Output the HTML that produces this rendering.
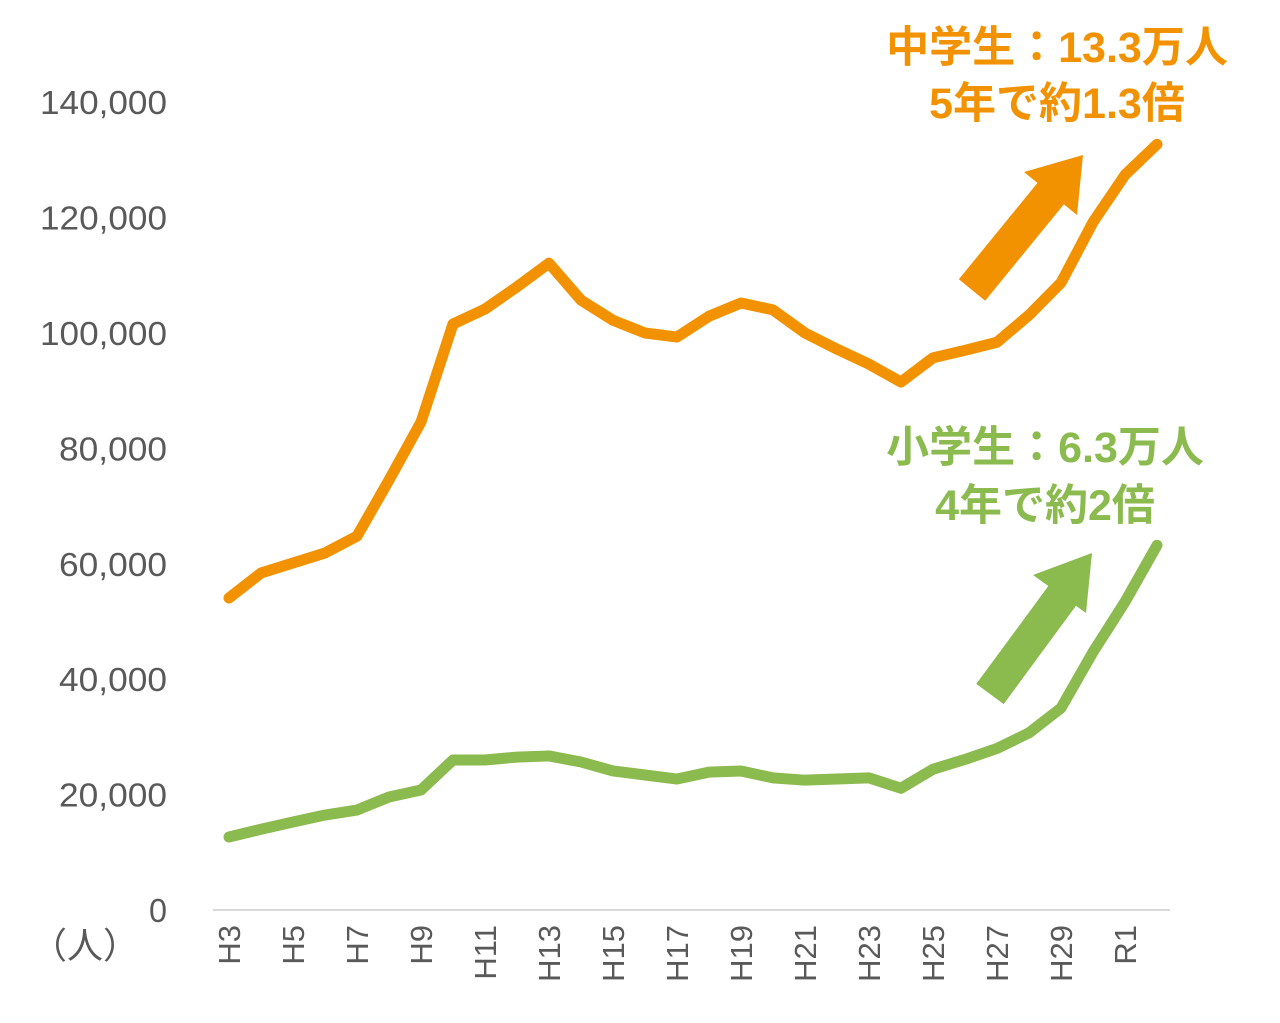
<!DOCTYPE html>
<html><head><meta charset="utf-8"><style>
body{margin:0;background:#fff;}
svg{display:block;font-family:"Liberation Sans","Noto Sans CJK JP",sans-serif;}
</style></head><body>
<svg id="chart" width="1280" height="1023">
<g id="yaxis"></g>
<g id="xaxis"></g>
<g id="series"></g>
<text x="85" y="958" font-size="36" fill="#595959" text-anchor="middle">（人）</text>
<g fill="#F39200" font-weight="bold" font-size="43" text-anchor="middle">
<text x="1057" y="62">中学生：13.3万人</text>
<text x="1057" y="118">5年で約1.3倍</text>
</g>
<g fill="#8BBA4E" font-weight="bold" font-size="43" text-anchor="middle">
<text x="1045" y="462">小学生：6.3万人</text>
<text x="1045" y="520">4年で約2倍</text>
</g>
<g>
<line x1="972" y1="290" x2="1052" y2="192" stroke="#F39200" stroke-width="34"/>
<polygon points="1083,155 1077,215 1024,172" fill="#F39200"/>
</g>
<g>
<line x1="990" y1="694" x2="1065" y2="592" stroke="#8BBA4E" stroke-width="34"/>
<polygon points="1092,553 1086,613 1033,575" fill="#8BBA4E"/>
</g>
</svg>
<script>
const categories=["H3","H4","H5","H6","H7","H8","H9","H10","H11","H12","H13","H14","H15","H16","H17","H18","H19","H20","H21","H22","H23","H24","H25","H26","H27","H28","H29","H30","R1","R2"];
const juniorHigh=[54070,58400,60140,61870,64800,74500,84570,101560,104150,108000,112100,105700,102200,100000,99300,102900,105200,104000,100000,97200,94600,91500,95700,97000,98400,103100,108700,119200,127400,132700];
const elementary=[12650,14000,15250,16460,17330,19580,20800,26000,26000,26500,26700,25650,24100,23400,22700,23900,24100,22900,22500,22700,22900,21100,24400,26100,28000,30700,35000,44700,53400,63200];
const yTicks=[0,20000,40000,60000,80000,100000,120000,140000];
const NS="http://www.w3.org/2000/svg";
const x=i=>229+i*32;
const y=v=>910-v/20000*115.4;
const ya=document.getElementById('yaxis');
yTicks.forEach(t=>{
 const e=document.createElementNS(NS,'text');
 
 
 e.setAttribute('x',167);e.setAttribute('y',y(t)+12);
 e.setAttribute('text-anchor','end');e.setAttribute('font-size','33');e.setAttribute('fill','#595959');
 e.setAttribute('textLength',t===0?18:(t>=100000?127:108));e.setAttribute('lengthAdjust','spacingAndGlyphs');
 e.textContent=t.toLocaleString('en-US');ya.appendChild(e);
});
const xa=document.getElementById('xaxis');
const base=document.createElementNS(NS,'line');


base.setAttribute('x1',213);base.setAttribute('x2',1170);base.setAttribute('y1',910);base.setAttribute('y2',910);
base.setAttribute('stroke','#d9d9d9');base.setAttribute('stroke-width','2');xa.appendChild(base);
categories.forEach((c,i)=>{
 if(i%2) return;
 const e=document.createElementNS(NS,'text');
 
 
 e.setAttribute('transform',`translate(${x(i)+11},925) rotate(-90)`);
 e.setAttribute('text-anchor','end');e.setAttribute('font-size','31');e.setAttribute('fill','#595959');
 e.textContent=c;xa.appendChild(e);
});
const sg=document.getElementById('series');
function draw(data,color,name){
 const p=document.createElementNS(NS,'polyline');
 
 
 p.setAttribute('points',data.map((v,i)=>x(i)+','+y(v)).join(' '));
 p.setAttribute('fill','none');p.setAttribute('stroke',color);p.setAttribute('stroke-width','11');
 p.setAttribute('stroke-linejoin','round');p.setAttribute('stroke-linecap','round');
 sg.appendChild(p);
}
draw(juniorHigh,'#F39200','junior-high-line');
draw(elementary,'#8BBA4E','elementary-line');
</script>
</body></html>
